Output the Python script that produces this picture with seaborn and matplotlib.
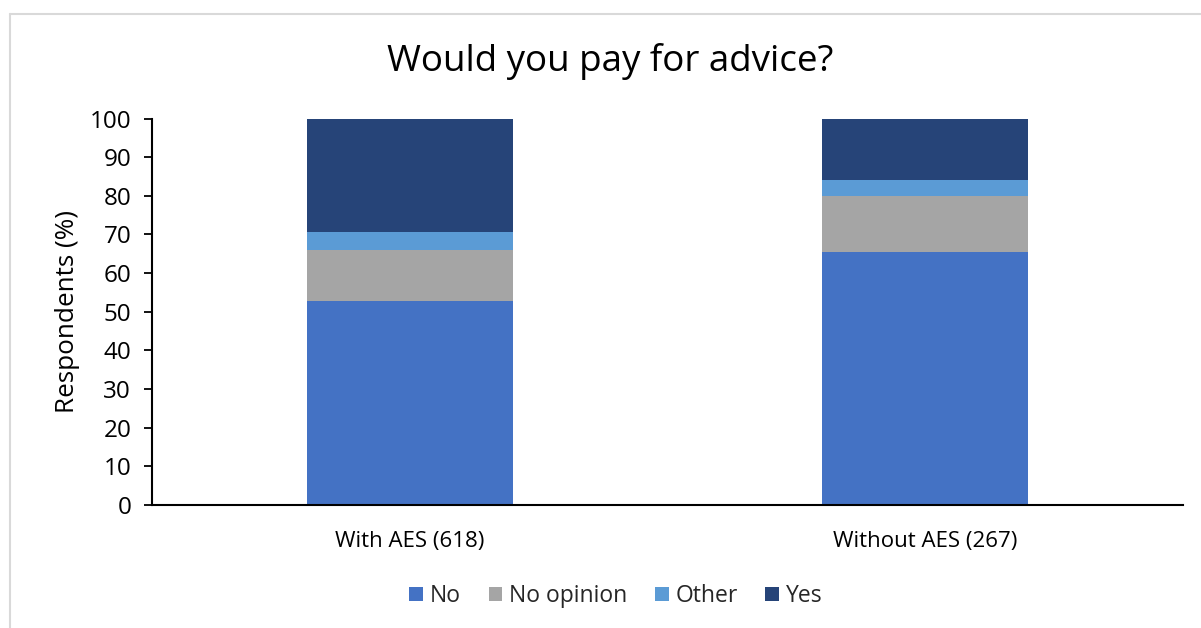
import numpy as np
import pandas as pd
import matplotlib
matplotlib.use("Agg")
import matplotlib.pyplot as plt
from matplotlib.lines import Line2D
from matplotlib.patches import Patch
import seaborn as sns

# Survey responses (% of respondents) per group
groups = ["With AES (618)", "Without AES (267)"]
answers = ["No", "No opinion", "Other", "Yes"]
no_vals = [52.7, 65.5]
no_opinion_vals = [13.4, 14.5]
other_vals = [4.5, 4.1]
yes_vals = [29.4, 15.9]
colors = ["#4472C4", "#A5A5A5", "#5B9BD5", "#264478"]
y_ticks = list(range(0, 101, 10))

sns.set_theme(style="white")
plt.rcParams["font.family"] = ["Open Sans", "DejaVu Sans"]

fig = plt.figure(figsize=(12.01, 6.28), dpi=100)
ax = fig.add_axes([152 / 1201, 1 - 505 / 628, (1183 - 152) / 1201, (505 - 118.5) / 628])

series = [no_vals, no_opinion_vals, other_vals, yes_vals]
cum = np.cumsum(np.array(series), axis=0)

# Stacked bars: draw cumulative totals from the top segment down
for i in range(len(answers) - 1, -1, -1):
    df = pd.DataFrame({"group": groups, "value": cum[i]})
    sns.barplot(data=df, x="group", y="value", color=colors[i], width=0.4,
                saturation=1, ax=ax, linewidth=0, order=groups)

ax.set_ylim(0, 100)
ax.set_xlim(-0.5, 1.5)
ax.set_yticks(y_ticks)
ax.set_yticklabels([str(t) for t in y_ticks], fontsize=17.5, color="#000000")
ax.tick_params(axis="y", which="both", left=True, length=6, width=1.3,
               color="#000000", pad=9)
ax.set_xticks(range(len(groups)))
ax.set_xticklabels(groups, fontsize=16, color="#000000")
ax.tick_params(axis="x", bottom=False, pad=13)
ax.set_xlabel("")
ax.set_ylabel("Respondents (%)", fontsize=18.8, color="#000000", labelpad=7)

for side in ["top", "right"]:
    ax.spines[side].set_visible(False)
for side in ["left", "bottom"]:
    ax.spines[side].set_color("#000000")
    ax.spines[side].set_linewidth(1.5)

fig.text(610 / 1201, 1 - 61 / 628, "Would you pay for advice?", ha="center",
         va="center", fontsize=26.5, color="#000000")

handles = [Patch(facecolor=c, edgecolor="none") for c in colors]
fig.legend(handles, answers, loc="center", bbox_to_anchor=(616 / 1201, 1 - 596 / 628),
           ncol=4, frameon=False, fontsize=16.5, handlelength=0.6, handleheight=0.6,
           handletextpad=0.3, columnspacing=1.2)

# Chart area border (top and left edges)
fig.add_artist(Line2D([10 / 1201, 10 / 1201], [0, 1 - 14 / 628],
                      transform=fig.transFigure, color="#D9D9D9", linewidth=1.5))
fig.add_artist(Line2D([10 / 1201, 1], [1 - 14 / 628, 1 - 14 / 628],
                      transform=fig.transFigure, color="#D9D9D9", linewidth=1.5))

fig.savefig("out.png", dpi=100, facecolor="white")
